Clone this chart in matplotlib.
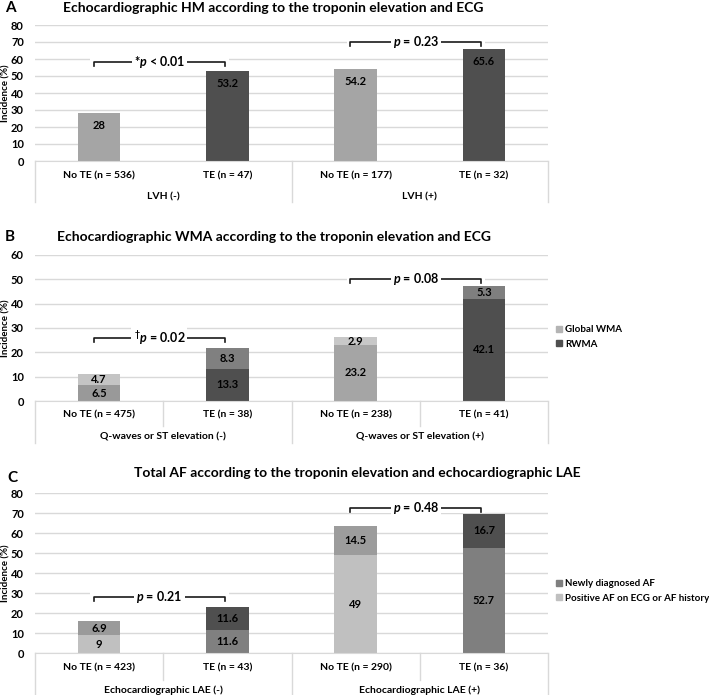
import matplotlib
matplotlib.use("Agg")
import matplotlib.pyplot as plt
from matplotlib.patches import Patch, Rectangle
import matplotlib.transforms as mtransforms

plt.rcParams['font.family'] = ['Lato', 'DejaVu Sans']
plt.rcParams['mathtext.fontset'] = 'custom'
plt.rcParams['mathtext.it'] = 'Lato:italic:bold'
plt.rcParams['mathtext.rm'] = 'Lato:bold'
plt.rcParams['mathtext.bf'] = 'Lato:bold'

# panel A data
cats_a = ["No TE (n = 536)", "TE (n = 47)", "No TE (n = 177)", "TE (n = 32)"]
groups_a = ["LVH (-)", "LVH (+)"]
hm_values = [28, 53.2, 54.2, 65.6]

# panel B data
cats_b = ["No TE (n = 475)", "TE (n = 38)", "No TE (n = 238)", "TE (n = 41)"]
groups_b = ["Q-waves or ST elevation (-)", "Q-waves or ST elevation (+)"]
rwma = [6.5, 13.3, 23.2, 42.1]
global_wma = [4.7, 8.3, 2.9, 5.3]

# panel C data
cats_c = ["No TE (n = 423)", "TE (n = 43)", "No TE (n = 290)", "TE (n = 36)"]
groups_c = ["Echocardiographic LAE (-)", "Echocardiographic LAE (+)"]
af_history = [9, 11.6, 49, 52.7]
af_new = [6.9, 11.6, 14.5, 16.7]

# p values: (text, bracket level, left bar, right bar)
p_a = [("*$p$ < 0.01", 58.5, 0, 1), ("$p$ = 0.23", 70, 2, 3)]
p_b = [("$^{\\dagger}p$ = 0.02", 26, 0, 1), ("$p$ = 0.08", 50, 2, 3)]
p_c = [("$p$ = 0.21", 28, 0, 1), ("$p$ = 0.48", 72.5, 2, 3)]

W, H = 709, 695
GRID = "#d9d9d9"
BAR_W = 0.33


def make_axes(fig, top_px, bottom_px):
    """axes placed by pixel rows of the reference"""
    left, right = 35, 548
    return fig.add_axes([left / W, (H - bottom_px) / H, (right - left) / W, (bottom_px - top_px) / H])


def style_axes(ax, ymax, step):
    ax.set_xlim(-0.5, 3.5)
    ax.set_ylim(0, ymax)
    ax.set_yticks(range(0, ymax + 1, step))
    ax.tick_params(axis='y', length=0, pad=8, labelsize=8)
    for lab in ax.get_yticklabels():
        lab.set_fontweight('bold')
    ax.set_xticks([])
    ax.grid(True, axis='y', color=GRID, linewidth=1, zorder=0)
    ax.set_axisbelow(True)
    for s in ['top', 'right', 'left']:
        ax.spines[s].set_visible(False)
    ax.spines['bottom'].set_color(GRID)
    ax.set_ylabel("Incidence (%)", fontsize=7, fontweight='bold')
    ax.yaxis.set_label_coords(-25 / (548 - 35), 0.5)


def category_axis(ax, cats, groups, h_px, cat_px, grp_px, outer_px, inner_px=None):
    """Excel-like two level category axis"""
    trans = mtransforms.blended_transform_factory(ax.transData, ax.transAxes)
    for i, c in enumerate(cats):
        ax.text(i, -cat_px / h_px, c, transform=trans, ha='center', va='center',
                fontsize=7.5, fontweight='bold')
    for g, name in enumerate(groups):
        ax.text(0.5 + 2 * g, -grp_px / h_px, name, transform=trans, ha='center', va='center',
                fontsize=7.5, fontweight='bold')
    for x in [-0.5, 1.5, 3.5]:
        ax.plot([x, x], [0, -outer_px / h_px], transform=trans, color=GRID, lw=1, clip_on=False)
    if inner_px:
        for x in [0.5, 2.5]:
            ax.plot([x, x], [0, -inner_px / h_px], transform=trans, color=GRID, lw=1, clip_on=False)


def brackets(ax, pvals, ymax, h_px):
    u = ymax / h_px  # data units per pixel
    for text, y, i, j in pvals:
        x0, x1 = i - 0.04, j - 0.02
        ax.add_patch(Rectangle((x0 - 0.03, y - 5 * u), x1 - x0 + 0.06, 11 * u,
                               facecolor='white', edgecolor='none', zorder=1))
        ax.plot([x0, x0, x1, x1], [y - 4 * u, y, y, y - 4 * u], color='#1a1a1a', lw=1.2, zorder=3)
        ax.text((x0 + x1) / 2, y, text, ha='center', va='center', fontsize=9, fontweight='bold',
                zorder=4, bbox=dict(facecolor='white', edgecolor='none', pad=1.5))


def stacked(ax, bottom, top, bottom_colors, top_colors):
    xs = range(len(bottom))
    ax.bar(xs, bottom, width=BAR_W, color=bottom_colors, zorder=2)
    ax.bar(xs, top, width=BAR_W, bottom=bottom, color=top_colors, zorder=2)
    for x, b, t in zip(xs, bottom, top):
        ax.text(x, b / 2, f"{b:g}", ha='center', va='center', fontsize=8, fontweight='bold', zorder=3)
        ax.text(x, b + t / 2, f"{t:g}", ha='center', va='center', fontsize=8, fontweight='bold', zorder=3)


def side_legend(ax, colors, labels, y_px):
    ax.legend([Patch(color=c) for c in colors], labels, loc='center left',
              bbox_to_anchor=(556 / W, 1 - y_px / H), bbox_transform=fig.transFigure,
              frameon=False, borderaxespad=0, borderpad=0, handlelength=0.6, handleheight=0.6,
              handletextpad=0.3, labelspacing=0.55, prop={'size': 7, 'weight': 'bold'})


fig = plt.figure(figsize=(W / 100, H / 100), dpi=100)

# A
ax_a = make_axes(fig, 25, 161)
style_axes(ax_a, 80, 10)
ax_a.bar(range(4), hm_values, width=BAR_W, color=['#a5a5a5', '#4f4f4f', '#a5a5a5', '#4f4f4f'], zorder=2)
for x, v in enumerate(hm_values):
    ax_a.annotate(f"{v:g}", (x, v), xytext=(0, -5), textcoords='offset points', ha='center', va='top',
                  fontsize=8, fontweight='bold', zorder=3)
category_axis(ax_a, cats_a, groups_a, 136, 15, 36, 41)
brackets(ax_a, p_a, 80, 136)
fig.text(5 / W, 1 - 8 / H, "A", fontsize=11, fontweight='bold', va='center')
fig.text(273 / W, 1 - 8 / H, "Echocardiographic HM according to the troponin elevation and ECG",
         ha='center', va='center', fontsize=10, fontweight='bold')

# B
ax_b = make_axes(fig, 255, 401)
style_axes(ax_b, 60, 10)
stacked(ax_b, rwma, global_wma, ['#999999', '#4f4f4f', '#a5a5a5', '#4f4f4f'],
        ['#c4c4c4', '#808080', '#c8c8c8', '#7f7f7f'])
category_axis(ax_b, cats_b, groups_b, 146, 14, 36, 42, 25)
brackets(ax_b, p_b, 60, 146)
side_legend(ax_b, ['#b4b4b4', '#4f4f4f'], ["Global WMA", "RWMA"], 337)
fig.text(5 / W, 1 - 237 / H, "B", fontsize=11, fontweight='bold', va='center')
fig.text(274 / W, 1 - 237 / H, "Echocardiographic WMA according to the troponin elevation and ECG",
         ha='center', va='center', fontsize=10, fontweight='bold')

# C
ax_c = make_axes(fig, 493, 653)
style_axes(ax_c, 80, 10)
stacked(ax_c, af_history, af_new, ['#c0c0c0', '#808080', '#c0c0c0', '#7f7f7f'],
        ['#9a9a9a', '#4f4f4f', '#9c9c9c', '#4f4f4f'])
category_axis(ax_c, cats_c, groups_c, 160, 15, 37, 42, 27)
brackets(ax_c, p_c, 80, 160)
side_legend(ax_c, ['#7f7f7f', '#c0c0c0'], ["Newly diagnosed AF", "Positive AF on ECG or AF history"], 591)
fig.text(7 / W, 1 - 478 / H, "C", fontsize=11, fontweight='bold', va='center')
fig.text(357 / W, 1 - 473 / H, "Total AF according to the troponin elevation and echocardiographic LAE",
         ha='center', va='center', fontsize=10, fontweight='bold')

fig.savefig("out.png", dpi=100)
